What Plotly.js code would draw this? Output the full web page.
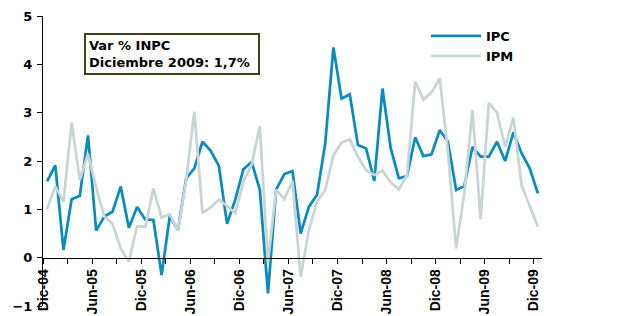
<!DOCTYPE html>
<html><head><meta charset="utf-8">
<script src="https://cdn.plot.ly/plotly-3.0.1.min.js"></script>
<style>html,body{margin:0;padding:0;background:#fff}#chart{width:629px;height:316px}</style>
</head><body><div id="chart"></div>
<script>
const months = [
  'Dic-04','Ene-05','Feb-05','Mar-05','Abr-05','May-05','Jun-05','Jul-05','Ago-05','Sep-05','Oct-05','Nov-05',
  'Dic-05','Ene-06','Feb-06','Mar-06','Abr-06','May-06','Jun-06','Jul-06','Ago-06','Sep-06','Oct-06','Nov-06',
  'Dic-06','Ene-07','Feb-07','Mar-07','Abr-07','May-07','Jun-07','Jul-07','Ago-07','Sep-07','Oct-07','Nov-07',
  'Dic-07','Ene-08','Feb-08','Mar-08','Abr-08','May-08','Jun-08','Jul-08','Ago-08','Sep-08','Oct-08','Nov-08',
  'Dic-08','Ene-09','Feb-09','Mar-09','Abr-09','May-09','Jun-09','Jul-09','Ago-09','Sep-09','Oct-09','Nov-09',
  'Dic-09'
];
const ipc = [
  1.58, 1.91, 0.16, 1.21, 1.28, 2.53, 0.56, 0.85, 0.95, 1.47, 0.62, 1.05,
  0.79, 0.78, -0.36, 0.86, 0.57, 1.64, 1.85, 2.40, 2.21, 1.90, 0.70, 1.20,
  1.83, 1.98, 1.41, -0.74, 1.41, 1.73, 1.79, 0.50, 1.05, 1.30, 2.36, 4.35,
  3.29, 3.38, 2.33, 2.26, 1.59, 3.50, 2.27, 1.64, 1.69, 2.49, 2.10, 2.14,
  2.64, 2.40, 1.40, 1.48, 2.29, 2.09, 2.09, 2.40, 2.00, 2.59, 2.16, 1.85,
  1.33
];
const ipm = [
  1.01, 1.47, 1.16, 2.79, 1.61, 2.15, 1.45, 0.85, 0.70, 0.19, -0.08, 0.65,
  0.64, 1.43, 0.83, 0.90, 0.56, 1.60, 3.02, 0.92, 1.04, 1.20, 1.07, 0.92,
  1.57, 1.92, 2.72, -0.10, 1.41, 1.21, 1.59, -0.40, 0.57, 1.16, 1.40, 2.12,
  2.38, 2.45, 2.09, 1.81, 1.71, 1.80, 1.56, 1.41, 1.71, 3.64, 3.27, 3.42,
  3.71, 2.20, 0.19, 1.33, 3.05, 0.79, 3.20, 3.00, 2.29, 2.90, 1.50, 1.09,
  0.64
];
const seriesNames = ['IPC', 'IPM'];
const noteText = 'Var % INPC<br>Diciembre 2009: 1,7%';

const xIdx = months.map((m, i) => i);
const tickvals = [], ticktext = [];
for (let i = 0; i < months.length; i += 3) {
  tickvals.push(i - 0.5);
  ticktext.push(i % 6 === 0 ? months[i] : '');
}

const boldFont = (size) => ({family: 'DejaVu Sans', size: size, color: '#000', weight: 'bold'});

const traces = [
  {x: xIdx, y: ipc, name: seriesNames[0], type: 'scatter', mode: 'lines',
   line: {color: '#0a8bbd', width: 2.75}, hoverinfo: 'skip'},
  {x: xIdx, y: ipm, name: seriesNames[1], type: 'scatter', mode: 'lines',
   line: {color: '#c8d5d5', width: 2.75}, hoverinfo: 'skip'}
];

const W = 629, H = 316, L = 43, R = 87, T = 16, B = 10;
const px = v => (v - L) / (W - L - R);
const py = v => (H - B - v) / (H - T - B);

const layout = {
  width: W, height: H,
  margin: {l: L, r: R, t: T, b: B, pad: 0},
  paper_bgcolor: '#fff', plot_bgcolor: '#fff',
  showlegend: true,
  legend: {x: px(426), y: py(21), xanchor: 'left', yanchor: 'top',
           font: boldFont(13), bgcolor: 'rgba(0,0,0,0)', tracegroupgap: 0, itemwidth: 50},
  xaxis: {
    range: [-0.5, 60.5], anchor: 'free', position: 1 / 6,
    tickmode: 'array', tickvals: tickvals, ticktext: ticktext, tickangle: -90,
    ticks: 'outside', ticklen: 5, tickcolor: '#000', tickwidth: 1,
    showline: true, linecolor: '#000', linewidth: 1,
    showgrid: false, zeroline: false,
    tickfont: {family: 'Liberation Sans', size: 14, color: '#000', weight: 'bold'}
  },
  yaxis: {
    range: [-1, 5], dtick: 1, tick0: 0,
    ticks: 'outside', ticklen: 5, tickcolor: '#000', tickwidth: 1,
    showline: true, linecolor: '#000', linewidth: 1,
    showgrid: false, zeroline: false,
    tickfont: boldFont(13), ticklabelstandoff: 2
  },
  yaxis2: {
    range: [-1, 5], dtick: 1, tick0: 0, overlaying: 'y', side: 'right', anchor: 'x',
    ticks: 'outside', ticklen: 5, tickcolor: '#000', tickwidth: 1,
    showline: true, linecolor: '#000', linewidth: 1,
    showgrid: false, zeroline: false,
    tickfont: boldFont(13), ticklabelstandoff: 7
  },
  annotations: [{
    text: noteText, xref: 'paper', yref: 'paper',
    x: px(84), y: py(33), xanchor: 'left', yanchor: 'top', align: 'left',
    showarrow: false, font: boldFont(13),
    bordercolor: '#3f3f15', borderwidth: 2, borderpad: 3, bgcolor: '#fff',
    width: 166
  }]
};

Plotly.newPlot('chart', traces, layout, {staticPlot: true, displayModeBar: false});
</script>
</body></html>
